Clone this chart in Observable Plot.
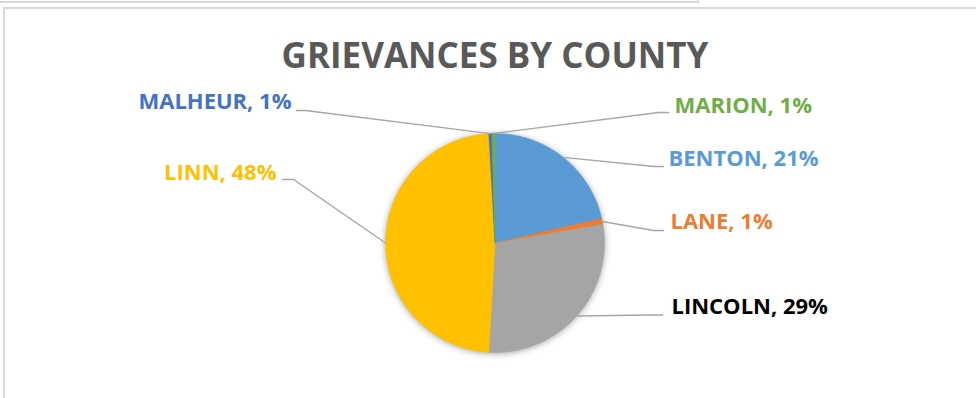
<!DOCTYPE html>
<html><head><meta charset="utf-8">
<script src="https://cdn.jsdelivr.net/npm/d3@7"></script>
<script src="https://cdn.jsdelivr.net/npm/@observablehq/plot@0.6"></script>
<style>
html,body{margin:0;padding:0;background:#fff;width:976px;height:398px;overflow:hidden;position:relative}
#box1{position:absolute;left:-10px;top:-10px;width:709px;height:13px;box-sizing:border-box;border-right:2px solid #d9d9d9;border-bottom:2px solid #d9d9d9}
#frame{position:absolute;left:3px;top:7px;width:1000px;height:500px;box-sizing:border-box;border:2px solid #d9d9d9;z-index:2}
#title{position:absolute;left:0;top:37px;width:990px;text-align:center;font:bold 35px/35px "Open Sans",sans-serif;color:#595959;white-space:nowrap}
#chart{position:absolute;left:0;top:80px;width:976px;height:318px}
</style></head><body>
<div id="box1"></div><div id="frame"></div>
<div id="title">GRIEVANCES BY COUNTY</div>
<div id="chart"></div>
<script>
// data
const counties = ["BENTON", "LANE", "LINCOLN", "LINN", "MALHEUR", "MARION"];
const shares = [21.4, 0.9, 28.6, 48.2, 0.45, 0.45];
const pctLabels = ["21%", "1%", "29%", "48%", "1%", "1%"];
const sliceColors = ["#5B9BD5", "#ED7D31", "#A5A5A5", "#FFC000", "#4472C4", "#70AD47"];
const labelColors = ["#5B9BD5", "#ED7D31", "#000000", "#FFC000", "#4472C4", "#70AD47"];

// layout (page pixel coordinates)
const pieLayout = {cx: 494.5, cy: 242.5, r: 109.5};
const labelX = [668, 670, 671, 276, 291, 674];
const labelY = [158, 221.5, 306.5, 172.5, 101.5, 105];
const labelAnchor = ["start", "start", "start", "end", "end", "start"];
const elbowPts = [[654,166,663,166],[653,230,663,230],[650,314.5,662,314.5],[293,179,282,179],[305,110,296,110],[658,112,668,112]];

const arcs = d3.pie().sort(null).value(d => d)(shares);
const pt = (a, r) => [pieLayout.cx + r * Math.sin(a), pieLayout.cy - r * Math.cos(a)];

const sliceRows = [];
arcs.forEach((a, i) => {
  const name = counties[i], color = sliceColors[i];
  sliceRows.push({name, color, x: pieLayout.cx, y: pieLayout.cy});
  const n = Math.max(2, Math.ceil((a.endAngle - a.startAngle) / 0.01));
  for (let k = 0; k <= n; k++) {
    const [x, y] = pt(a.startAngle + (a.endAngle - a.startAngle) * k / n, pieLayout.r);
    sliceRows.push({name, color, x, y});
  }
  sliceRows.push({name, color, x: pieLayout.cx, y: pieLayout.cy});
});

const leaderRows = [];
arcs.forEach((a, i) => {
  const [x0, y0] = pt((a.startAngle + a.endAngle) / 2, pieLayout.r);
  const e = elbowPts[i];
  leaderRows.push({name: counties[i], x: x0, y: y0});
  leaderRows.push({name: counties[i], x: e[0], y: e[1]});
  leaderRows.push({name: counties[i], x: e[2], y: e[3]});
});

const labelRows = counties.map((c, i) => ({
  text: `${c}, ${pctLabels[i]}`, color: labelColors[i], x: labelX[i], y: labelY[i], anchor: labelAnchor[i]
}));

const textOpts = {x: "x", y: "y", text: "text", fill: "color", fontFamily: "Open Sans", fontWeight: "bold", fontSize: 22, lineAnchor: "middle"};

const plot = Plot.plot({
  width: 976, height: 318, margin: 0,
  style: {background: "transparent", overflow: "visible"},
  x: {domain: [0, 976], range: [0, 976], axis: null},
  y: {domain: [80, 398], range: [0, 318], axis: null},
  color: {type: "identity"},
  marks: [
    Plot.line(sliceRows, {x: "x", y: "y", z: "name", fill: "color", stroke: "color", strokeWidth: 0.5, curve: "linear"}),
    Plot.line(leaderRows, {x: "x", y: "y", z: "name", stroke: "#A6A6A6", strokeWidth: 1.4, curve: "linear"}),
    Plot.text(labelRows.filter(d => d.anchor === "start"), {...textOpts, textAnchor: "start"}),
    Plot.text(labelRows.filter(d => d.anchor === "end"), {...textOpts, textAnchor: "end"})
  ]
});
const pieG = plot.querySelector("g[aria-label=line]");
if (pieG) pieG.style.filter = "drop-shadow(0px 1px 3px rgba(0,0,0,0.35))";
document.getElementById("chart").appendChild(plot);
</script>
</body></html>
